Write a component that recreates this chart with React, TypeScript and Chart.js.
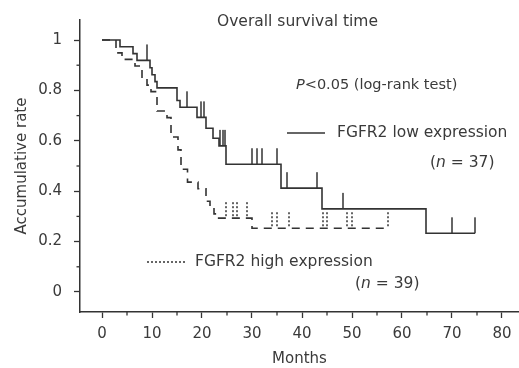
import React, { useEffect, useRef } from 'react';
import { Chart, registerables } from 'chart.js';

Chart.register(...registerables);

// ---- data (months, survival) ----
const LOW_TIMES = [0, 3.6, 6.2, 7, 9.6, 10, 10.6, 11, 15, 15.6, 19, 20.8, 22.2, 23.4, 24.8, 35.8, 44, 64.8, 74.6];
const LOW_SURV = [1, 0.973, 0.946, 0.919, 0.89, 0.862, 0.835, 0.81, 0.76, 0.733, 0.693, 0.65, 0.61, 0.58, 0.507, 0.412, 0.33, 0.233, 0.233];
const LOW_CENSOR = [9, 17, 19.8, 20.4, 23.6, 24.2, 24.6, 30, 31, 32, 35, 37, 43, 48.2, 70, 74.6];

const HIGH_TIMES = [0, 2.8, 4, 6.6, 8, 9, 9.8, 11, 13, 13.8, 15.2, 15.8, 17.1, 19.2, 20.8, 21.6, 22.4, 23, 30, 57.2];
const HIGH_SURV = [1, 0.949, 0.923, 0.897, 0.846, 0.821, 0.795, 0.718, 0.692, 0.615, 0.564, 0.487, 0.436, 0.41, 0.36, 0.34, 0.31, 0.293, 0.253, 0.253];
const HIGH_CENSOR = [24.8, 26.2, 27, 29, 34, 35, 37.4, 44.2, 45, 49, 50, 57.2];

const X_TICKS = [0, 5, 10, 15, 20, 25, 30, 35, 40, 45, 50, 55, 60, 65, 70, 75, 80];
const X_LABELS = ['0', '', '10', '', '20', '', '30', '', '40', '', '50', '', '60', '', '70', '', '80'];
const Y_TICKS = [0, 0.1, 0.2, 0.3, 0.4, 0.5, 0.6, 0.7, 0.8, 0.9, 1];
const Y_LABELS = ['0', '', '0.2', '', '0.4', '', '0.6', '', '0.8', '', '1'];

const LINE = '#333333';
const TEXT = '#3a3a3a';
const FAMILY = '"DejaVu Sans", sans-serif';

function survAt(times: number[], surv: number[], t: number) {
  let s = surv[0];
  for (let i = 0; i < times.length; i++) {
    if (times[i] <= t) s = surv[i];
  }
  return s;
}

function makeTick(dotted: boolean) {
  const cv = document.createElement('canvas');
  cv.width = 4;
  cv.height = 34;
  const c = cv.getContext('2d')!;
  c.strokeStyle = LINE;
  c.lineWidth = 1.5;
  if (dotted) c.setLineDash([2, 2]);
  c.beginPath();
  c.moveTo(2, 1);
  c.lineTo(2, 17);
  c.stroke();
  return cv;
}

const minorTicks = {
  id: 'minorTicks',
  afterDraw(chart: any) {
    const c = chart.ctx;
    const xs = chart.scales.x;
    const ys = chart.scales.y;
    const a = chart.chartArea;
    c.save();
    c.strokeStyle = LINE;
    c.lineWidth = 1.3;
    X_TICKS.forEach((v, i) => {
      if (X_LABELS[i]) return;
      const px = xs.getPixelForValue(v);
      c.beginPath();
      c.moveTo(px, a.bottom);
      c.lineTo(px, a.bottom + 3.5);
      c.stroke();
    });
    Y_TICKS.forEach((v, i) => {
      if (Y_LABELS[i]) return;
      const py = ys.getPixelForValue(v);
      c.beginPath();
      c.moveTo(a.left, py);
      c.lineTo(a.left - 3.5, py);
      c.stroke();
    });
    c.restore();
  },
};

const annotations = {
  id: 'annotations',
  afterDraw(chart: any) {
    const c = chart.ctx;
    c.save();
    c.fillStyle = TEXT;
    c.textBaseline = 'middle';
    c.textAlign = 'left';
    const f = (size: number, style = '') => `${style} ${size}px ${FAMILY}`.trim();

    c.font = f(15.5);
    c.fillText('Overall survival time', 217, 22);

    c.font = f(14.5, 'italic');
    c.fillText('P', 296, 85);
    let w = c.measureText('P').width;
    c.font = f(14.5);
    c.fillText('<0.05 (log-rank test)', 296 + w, 85);

    // low legend
    c.strokeStyle = LINE;
    c.lineWidth = 1.5;
    c.beginPath();
    c.moveTo(287, 133);
    c.lineTo(325, 133);
    c.stroke();
    c.font = f(15.5);
    c.fillText('FGFR2 low expression', 337, 133);
    const nLine = (x: number, y: number, n: string) => {
      c.font = f(15.5);
      c.fillText('(', x, y);
      let xx = x + c.measureText('(').width;
      c.font = f(15.5, 'italic');
      c.fillText('n', xx, y);
      xx += c.measureText('n').width;
      c.font = f(15.5);
      c.fillText(' = ' + n + ')', xx, y);
    };
    nLine(430, 163, '37');

    // high legend
    c.setLineDash([2, 2]);
    c.beginPath();
    c.moveTo(147, 262);
    c.lineTo(186, 262);
    c.stroke();
    c.setLineDash([]);
    c.font = f(15.5);
    c.fillText('FGFR2 high expression', 195, 262);
    nLine(355, 284, '39');
    c.restore();
  },
};

export default function App() {
  const ref = useRef<HTMLCanvasElement | null>(null);

  useEffect(() => {
    document.body.style.margin = '0';
    const canvas = ref.current!;
    const solidTick = makeTick(false);
    const dottedTick = makeTick(true);

    const lowLine = LOW_TIMES.map((t, i) => ({ x: t, y: LOW_SURV[i] }));
    const highLine = HIGH_TIMES.map((t, i) => ({ x: t, y: HIGH_SURV[i] }));
    const lowCens = LOW_CENSOR.map((t) => ({ x: t, y: survAt(LOW_TIMES, LOW_SURV, t) }));
    const highCens = HIGH_CENSOR.map((t) => ({ x: t, y: survAt(HIGH_TIMES, HIGH_SURV, t) }));

    const font = { family: FAMILY, size: 15 };

    const chart = new Chart(canvas, {
      type: 'line',
      data: {
        datasets: [
          {
            label: 'FGFR2 low expression',
            data: lowLine,
            stepped: 'before',
            borderColor: LINE,
            borderWidth: 1.6,
            pointRadius: 0,
            fill: false,
          },
          {
            label: 'FGFR2 high expression',
            data: highLine,
            stepped: 'before',
            borderColor: LINE,
            borderWidth: 1.6,
            borderDash: [8, 6],
            pointRadius: 0,
            fill: false,
          },
          {
            label: 'low censored',
            data: lowCens,
            showLine: false,
            pointStyle: solidTick as any,
            pointRadius: 8,
          },
          {
            label: 'high censored',
            data: highCens,
            showLine: false,
            pointStyle: dottedTick as any,
            pointRadius: 8,
          },
        ],
      },
      options: {
        responsive: false,
        animation: false,
        devicePixelRatio: 1,
        layout: { autoPadding: false, padding: { top: 20, right: 0, bottom: 0, left: 0 } },
        plugins: {
          legend: { display: false },
          tooltip: { enabled: false },
          title: { display: false },
        },
        scales: {
          x: {
            type: 'linear',
            min: -4.4,
            max: 83.4,
            afterBuildTicks: (s: any) => {
              s.ticks = X_TICKS.map((value) => ({ value }));
            },
            afterFit: (s: any) => {
              s.height = 56;
              s.paddingLeft = 0;
              s.paddingRight = 0;
            },
            border: { display: true, color: LINE, width: 1.5 },
            grid: {
              display: true,
              drawOnChartArea: false,
              drawTicks: true,
              tickLength: 6,
              tickWidth: 1.3,
              tickColor: (ctx: any) => (X_LABELS[ctx.index] ? LINE : 'rgba(0,0,0,0)'),
            },
            ticks: {
              autoSkip: false,
              maxRotation: 0,
              padding: 7,
              font,
              color: TEXT,
              callback: (_v: any, i: number) => X_LABELS[i],
            },
            title: {
              display: true,
              text: 'Months',
              font,
              color: TEXT,
              padding: { top: 0, bottom: 0 },
            },
          },
          y: {
            type: 'linear',
            min: -0.0794,
            max: 1.0794,
            afterBuildTicks: (s: any) => {
              s.ticks = Y_TICKS.map((value) => ({ value }));
            },
            afterFit: (s: any) => {
              s.width = 80;
              s.paddingTop = 0;
              s.paddingBottom = 0;
            },
            border: { display: true, color: LINE, width: 1.5 },
            grid: {
              display: true,
              drawOnChartArea: false,
              drawTicks: true,
              tickLength: 6,
              tickWidth: 1.3,
              tickColor: (ctx: any) => (Y_LABELS[ctx.index] ? LINE : 'rgba(0,0,0,0)'),
            },
            ticks: {
              autoSkip: false,
              padding: 12,
              font,
              color: TEXT,
              callback: (_v: any, i: number) => Y_LABELS[i],
            },
            title: {
              display: true,
              text: 'Accumulative rate',
              font,
              color: TEXT,
              padding: { top: 13, bottom: 0 },
            },
          },
        },
      },
      plugins: [minorTicks, annotations],
    });

    return () => chart.destroy();
  }, []);

  return (
    <div style={{ width: 519, height: 368, position: 'relative', background: '#fff' }}>
      <canvas ref={ref} width={519} height={368} style={{ display: 'block' }} />
    </div>
  );
}
